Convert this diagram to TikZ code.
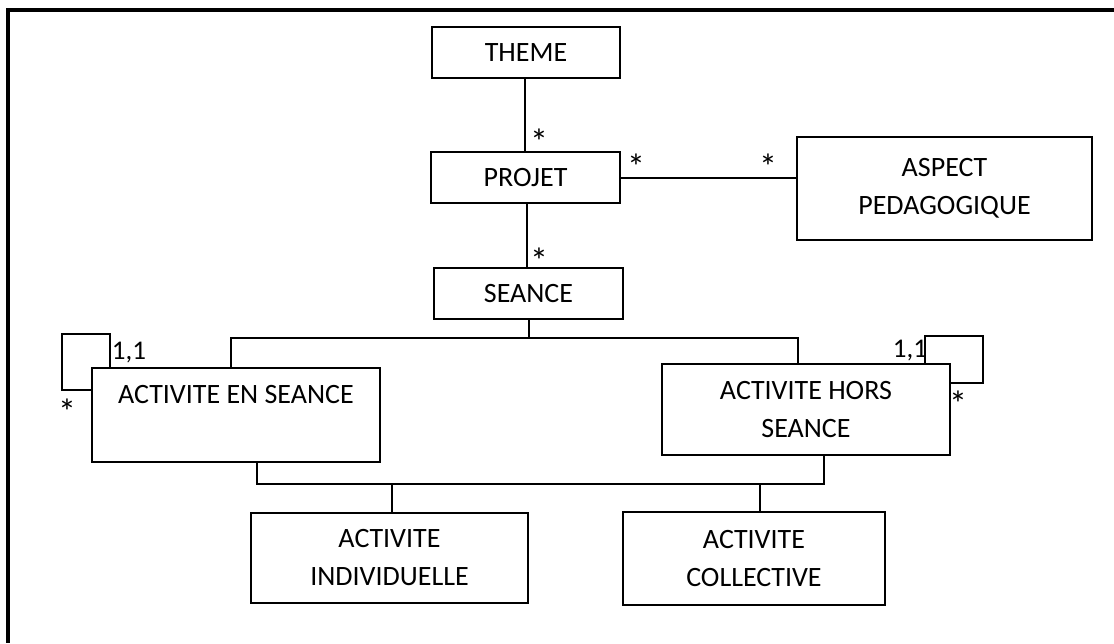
\documentclass[tikz,border=0pt]{standalone}
\usepackage{fontspec}
\setmainfont{Carlito}
\newcommand{\multstar}{\raisebox{0pt}[0.86em][-0.5em]{*}}
\begin{document}
\begin{tikzpicture}[x=0.5pt,y=-0.5pt,
  line width=1pt,
  entity/.style={draw, line width=1pt, inner sep=0pt, align=center,
    font=\fontsize{14}{19}\selectfont},
  caption/.style={inner sep=0pt, font=\fontsize{14}{19}\selectfont},
  mult/.style={inner sep=0pt, font=\fontsize{13.5}{15}\selectfont},
  star/.style={inner sep=0pt, anchor=center, font=\fontsize{18}{20}\selectfont}]
\useasboundingbox (0,0) rectangle (1114,643);
% outer frame
\draw[line width=1.6pt] (1114,10) -- (8,10) -- (8,643);

% classes
\node[entity, minimum width=94pt, minimum height=25.5pt] (theme) at (526,52.5) {THEME};
\node[entity, minimum width=94.5pt, minimum height=25.5pt] (projet) at (525.5,177.5) {PROJET};
\node[entity, minimum width=94.5pt, minimum height=25.5pt] (seance) at (528.5,293.5) {SEANCE};
\node[entity, minimum width=147.5pt, minimum height=51.5pt] (aspect) at (944.5,188.5) {ASPECT\\PEDAGOGIQUE};
\node[entity, minimum width=144pt, minimum height=47pt] (aes) at (236,415) {};
\node[caption] (aestext) at (236,395) {ACTIVITE EN SEANCE};
\node[entity, minimum width=144pt, minimum height=45.5pt] (ahs) at (806,409.5) {ACTIVITE HORS\\SEANCE};
\node[entity, minimum width=138.5pt, minimum height=45pt] (ai) at (389.5,558) {ACTIVITE\\INDIVIDUELLE};
\node[entity, minimum width=131pt, minimum height=46.5pt] (ac) at (754,558.5) {ACTIVITE\\COLLECTIVE};

% associations
\draw (theme.south -| 525,0) -- (projet.north -| 525,0);
\draw (projet.south -| 527,0) -- (seance.north -| 527,0);
\draw (projet.east) -- (aspect.west |- projet.east);

% SEANCE splits into the two kinds of activity
\coordinate (sj) at (529,338);
\draw (seance.south -| sj) -- (sj);
\draw (aes.north -| 231,0) |- (sj) -| (ahs.north -| 798,0);

% both activities are refined into individual / collective
\coordinate (bj) at (392,484);
\coordinate (cj) at (760,484);
\draw (aes.south -| 257,0) |- (bj) -- (ai.north -| bj);
\draw (ahs.south -| 824,0) |- (cj) -- (ac.north -| cj);
\draw (bj) -- (cj);

% reflexive associations
\draw (aes.west |- 0,390) -- (62,390) -- (62,334) -- (110,334) -- (aes.north -| 110,0);
\draw (ahs.north -| 925,0) -- (925,336) -- (983,336) -- (983,383) -- (ahs.east |- 0,383);

% multiplicities
\node[star] (s1) at (539,139) {\multstar};
\node[star] (s2) at (539,258) {\multstar};
\node[star] (s3) at (636,164) {\multstar};
\node[star] (s4) at (768,164) {\multstar};
\node[star] (s5) at (67,409) {\multstar};
\node[star] (s6) at (958,401) {\multstar};
\node[mult, anchor=base] (m1) at (129,359) {1,1};
\node[mult, anchor=base] (m2) at (910,357) {1,1};
\end{tikzpicture}
\end{document}
